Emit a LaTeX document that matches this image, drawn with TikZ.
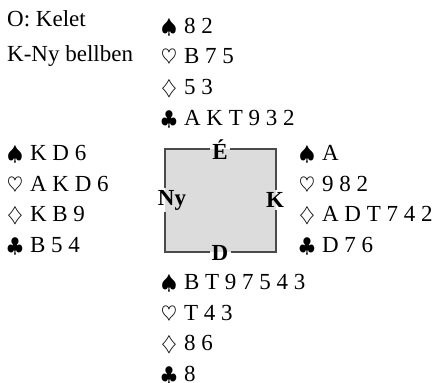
\documentclass[tikz,border=0pt]{standalone}
\usepackage{fontspec}
\setmainfont{Liberation Serif}
\usepackage{graphicx}
\usepackage{xcolor}
\usepackage{tikz}
\usetikzlibrary{positioning}
\definecolor{tablegray}{HTML}{DCDCDC}
\definecolor{edgegray}{HTML}{4A4A4A}
\newcommand\suitmark[1]{\scalebox{0.82}{$#1$}\hspace{7pt}}
\newcommand\spd{\suitmark{\spadesuit}}
\newcommand\hrt{\suitmark{\heartsuit}}
\newcommand\dmd{\suitmark{\diamondsuit}}
\newcommand\clb{\suitmark{\clubsuit}}
\tikzset{
  hand/.style={anchor=base west, align=left, inner sep=0pt, font=\fontsize{23}{30.5}\selectfont},
  seat/.style={inner sep=2pt, font=\fontsize{23}{26}\selectfont\bfseries},
  tableedge/.style={draw=edgegray, line width=1.1pt},
}
\begin{document}
\begin{tikzpicture}[x=1pt, y=-1pt]
\useasboundingbox (0,0) rectangle (435,382);
% the table
\fill[tablegray] (165,149) rectangle (276,252);
\coordinate (nw) at (165,149); \coordinate (ne) at (276,149);
\coordinate (sw) at (165,252); \coordinate (se) at (276,252);
\node[seat] (e) at (220,150) {É};
\node[seat] (ny) at (172,200) {Ny};
\node[seat] (k) at (275,200) {K};
\node[seat] (d) at (220,253) {D};
\draw[tableedge] (e.east|-ne)--(ne)--(ne|-k.north); \draw[tableedge] (se|-k.south)--(se)--(d.east|-se);
\draw[tableedge] (d.west|-sw)--(sw)--(sw|-ny.south); \draw[tableedge] (nw|-ny.north)--(nw)--(e.west|-nw);
% hands (placed at the baseline of their last line)
\node[hand, font=\fontsize{23}{35}\selectfont] (info) at (7,62) {O: Kelet\\K-Ny bellben};
\node[hand] (north) at (161,125) {\spd 8 2\\\hrt B 7 5\\\dmd 5 3\\\clb A K T 9 3 2};
\node[hand] (west) at (7,252) {\spd K D 6\\\hrt A K D 6\\\dmd K B 9\\\clb B 5 4};
\node[hand] (east) at (299,252) {\spd A\\\hrt 9 8 2\\\dmd A D T 7 4 2\\\clb D 7 6};
\node[hand] (south) at (161,381) {\spd B T 9 7 5 4 3\\\hrt T 4 3\\\dmd 8 6\\\clb 8};
\end{tikzpicture}
\end{document}
